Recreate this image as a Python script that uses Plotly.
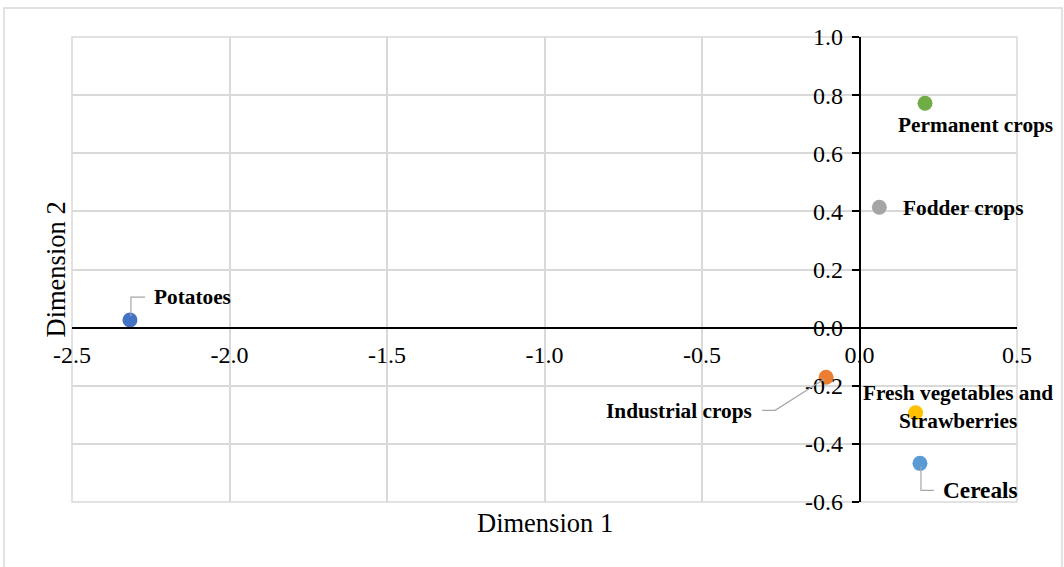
import plotly.graph_objects as go

# Correspondence-analysis coordinates of the crop groups
crops = ["Potatoes", "Permanent crops", "Fodder crops", "Industrial crops",
         "Fresh vegetables and<br>Strawberries", "Cereals"]
dim1 = [-2.316, 0.208, 0.063, -0.106, 0.178, 0.192]
dim2 = [0.026, 0.772, 0.414, -0.171, -0.293, -0.467]

x_tick_vals = [-2.5, -2.0, -1.5, -1.0, -0.5, 0.0, 0.5]
x_tick_text = ["-2.5", "-2.0", "-1.5", "-1.0", "-0.5", "0.0", "0.5"]
y_tick_vals = [-0.6, -0.4, -0.2, 0.0, 0.2, 0.4, 0.6, 0.8, 1.0]
y_tick_text = ["-0.6", "-0.4", "-0.2", "0.0", "0.2", "0.4", "0.6", "0.8", "1.0"]

colors = ["#4472C4", "#70AD47", "#A5A5A5", "#ED7D31", "#FFC000", "#5B9BD5"]

X_RANGE = [-2.5, 0.5]
Y_RANGE = [-0.6, 1.0]

# plot-area geometry in pixels
W, H = 1064, 567
M_L, M_R, M_T, M_B = 72, 47, 37, 65
PW, PH = W - M_L - M_R, H - M_T - M_B
PX_X = (X_RANGE[1] - X_RANGE[0]) / PW   # data units per pixel
PX_Y = (Y_RANGE[1] - Y_RANGE[0]) / PH

FONT = "Liberation Serif, Times New Roman, serif"

# label placement: (xanchor, xshift, yshift, size) and leader path in pixel offsets
label_style = {
    "Potatoes": ("left", 22, 23, 21.3, [(1, -4), (1, -23), (15, -23)]),
    "Permanent crops": ("center", 50, -22, 21.3, None),
    "Fodder crops": ("left", 22, -1, 21.3, None),
    "Industrial crops": ("right", -72, -34, 21.3, [(-2, 2), (-51, 33), (-64, 33)]),
    "Fresh vegetables and<br>Strawberries": ("center", 42, 6, 21.3, None),
    "Cereals": ("left", 21, -27, 23.3, [(1, 3), (1, 27), (14, 27)]),
}

fig = go.Figure()

fig.add_trace(go.Scatter(
    x=dim1, y=dim2, mode="markers", text=crops, hoverinfo="text",
    marker=dict(size=15, color=colors, line=dict(width=0)),
    showlegend=False,
))

annotations = []
shapes = []
for name, x, y in zip(crops, dim1, dim2):
    anchor, xs, ys, size, leader = label_style[name]
    annotations.append(dict(
        x=x, y=y, xref="x", yref="y", text=f"<b>{name}</b>", showarrow=False,
        xanchor=anchor, yanchor="middle", xshift=xs, yshift=ys, align="center",
        font=dict(family=FONT, size=size, color="#000000"),
    ))
    if leader:
        pts = [(x + dx * PX_X, y - dy * PX_Y) for dx, dy in leader]
        path = "M " + " L ".join(f"{px},{py}" for px, py in pts)
        shapes.append(dict(type="path", path=path, xref="x", yref="y",
                           line=dict(color="#A6A6A6", width=1.2), layer="above"))

# axis titles
annotations.append(dict(
    text="Dimension 1", xref="paper", yref="paper", x=0.5, y=-21 / PH,
    showarrow=False, xanchor="center", yanchor="middle",
    font=dict(family=FONT, size=26.5, color="#000000"),
))
annotations.append(dict(
    text="Dimension 2", xref="paper", yref="paper", x=-(M_L - 55) / PW, y=0.5,
    showarrow=False, xanchor="center", yanchor="middle", textangle=-90,
    font=dict(family=FONT, size=26.5, color="#000000"),
))

# plot-area frame and outer chart border
shapes.append(dict(type="rect", xref="paper", yref="paper", x0=0, y0=0, x1=1, y1=1,
                   line=dict(color="#D9D9D9", width=1.5), layer="below"))
shapes.append(dict(type="rect", xref="paper", yref="paper",
                   x0=-(M_L - 4) / PW, x1=1 + (M_R - 2) / PW,
                   y0=-(M_B + 10) / PH, y1=1 + (M_T - 8) / PH,
                   line=dict(color="#D9D9D9", width=1.5), layer="below"))

x_cross = (0 - Y_RANGE[0]) / (Y_RANGE[1] - Y_RANGE[0])
y_cross = (0 - X_RANGE[0]) / (X_RANGE[1] - X_RANGE[0])

fig.update_layout(
    width=W, height=H,
    margin=dict(l=M_L, r=M_R, t=M_T, b=M_B),
    paper_bgcolor="#FFFFFF", plot_bgcolor="#FFFFFF",
    font=dict(family=FONT, color="#000000"),
    xaxis=dict(
        range=X_RANGE, tickvals=x_tick_vals, ticktext=x_tick_text,
        anchor="free", position=x_cross,
        showline=True, linecolor="#000000", linewidth=1.5,
        zeroline=False, showgrid=True, gridcolor="#D9D9D9", gridwidth=1.5,
        ticks="", ticklabelstandoff=6,
        tickfont=dict(family=FONT, size=24, color="#000000"),
        fixedrange=True,
    ),
    yaxis=dict(
        range=Y_RANGE, tickvals=y_tick_vals, ticktext=y_tick_text,
        anchor="free", position=y_cross,
        showline=True, linecolor="#000000", linewidth=1.5,
        zeroline=False, showgrid=True, gridcolor="#D9D9D9", gridwidth=1.5,
        ticks="outside", ticklen=7, tickcolor="#000000", tickwidth=1.5,
        ticklabelstandoff=4,
        tickfont=dict(family=FONT, size=24, color="#000000"),
        fixedrange=True,
    ),
    annotations=annotations,
    shapes=shapes,
)

fig.write_html("out.html")
